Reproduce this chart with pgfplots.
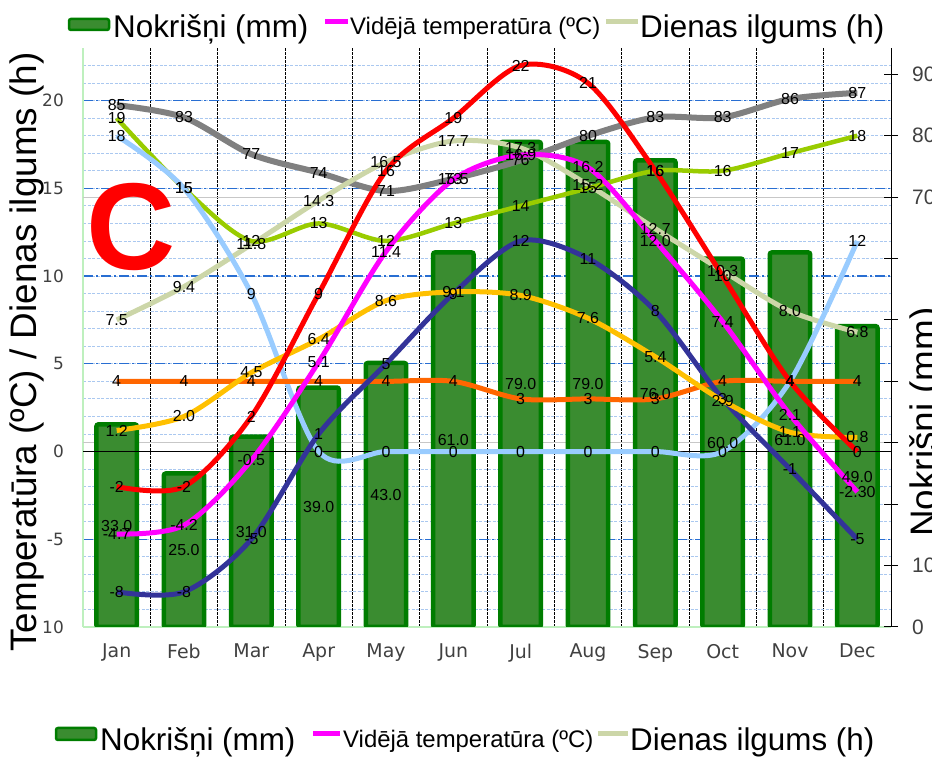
\documentclass[border=0pt]{standalone}
\usepackage{pgfplots}
\pgfplotsset{compat=1.18}
\usepackage{pgfplotstable}
\usepackage{fontspec}
\setmainfont{Liberation Sans}
\newfontfamily\dejavu{DejaVu Sans}

\definecolor{cRed}{RGB}{255,0,0}
\definecolor{cMag}{RGB}{255,0,255}
\definecolor{cGold}{RGB}{255,192,0}
\definecolor{cBlue}{RGB}{51,51,153}
\definecolor{cOrange}{RGB}{255,102,0}
\definecolor{cLBlue}{RGB}{153,204,255}
\definecolor{cLime}{RGB}{153,204,0}
\definecolor{cBeige}{RGB}{204,214,168}
\definecolor{cGray}{RGB}{128,128,128}
\definecolor{barFill}{RGB}{58,140,48}
\definecolor{barEdge}{RGB}{0,125,0}
\definecolor{gridMin}{RGB}{170,200,240}
\definecolor{gridMaj}{RGB}{40,110,210}
\definecolor{axGreen}{RGB}{190,240,190}
\definecolor{tickGray}{RGB}{64,64,64}

\pgfplotstableread{
m red mag gold blue orange lblue lime beige
0 -2 -4.7 1.2 -8 4 18 19 7.5
1 -2 -4.2 2.0 -8 4 15 15 9.4
2 2 -0.5 4.5 -5 4 9 12 11.8
3 9 5.1 6.4 1 4 0 13 14.3
4 16 11.4 8.6 5 4 0 12 16.5
5 19 15.5 9.1 9 4 0 13 17.7
6 22 16.9 8.9 12 3 0 14 17.3
7 21 16.2 7.6 11 3 0 15 15.2
8 16 12.0 5.4 8 3 0 16 12.7
9 10 7.4 2.9 3 4 0 16 10.3
10 4 2.1 1.1 -1 4 4 17 8.0
11 0 -2.30 0.8 -5 4 12 18 6.8
}\linesdata

\pgfplotstableread{
m mm hum
0 33.0 85
1 25.0 83
2 31.0 77
3 39.0 74
4 43.0 71
5 61.0 73
6 79.0 76
7 79.0 80
8 76.0 83
9 60.0 83
10 61.0 86
11 49.0 87
}\raindata

\pgfplotsset{
  base/.style={scale only axis, width=808bp, height=579bp, at={(83bp,137bp)}, anchor=south west, xmin=-0.5, xmax=11.5},
  lscale/.style={ymin=-10, ymax=23},
  rscale/.style={ymin=0, ymax=94.3},
  curve/.style={smooth, line width=5bp, mark=none, forget plot},
  lbl/.style={draw=none, mark=none, forget plot, nodes near coords, point meta=explicit symbolic,
     every node near coord/.append style={anchor=center, inner sep=0pt, text=black, font=\fontsize{16}{16}\selectfont}},
}

\begin{document}
\begin{tikzpicture}
\useasboundingbox (0,0) rectangle (932bp,764bp);

% axis A: grid and left ticks
\begin{axis}[base, lscale,
  axis x line*=bottom, axis y line*=left,
  axis line style={draw=axGreen, line width=1.2bp},
  tick style={draw=none},
  xtick={0,...,11},
  xticklabels={Jan,Feb,Mar,Apr,May,Jun,Jul,Aug,Sep,Oct,Nov,Dec},
  minor xtick={0.5,1.5,...,10.5},
  ytick={-10,-5,0,5,10,15,20},
  yticklabels={10,-5,0,5,10,15,20},
  minor ytick={-9,-8,...,22},
  ymajorgrids, yminorgrids, xminorgrids,
  major y grid style={gridMaj, dash pattern=on 10bp off 3bp on 2bp off 3bp, line width=1.2bp},
  minor y grid style={gridMin, dash pattern=on 3bp off 1.5bp, line width=0.9bp},
  minor x grid style={black, dash pattern=on 2.5bp off 1.5bp, line width=0.9bp},
  xticklabel style={font=\dejavu\fontsize{19}{19}\selectfont, text=tickGray, inner sep=0pt, anchor=north, yshift=-17bp},
  yticklabel style={font=\dejavu\fontsize{17}{17}\selectfont, text=tickGray, inner sep=0pt, anchor=east, xshift=-19bp},
]
\addplot[draw=none, forget plot] coordinates {(0,0)};
\end{axis}

% axis B: precipitation bars and humidity (right axis)
\begin{axis}[base, rscale,
  axis x line=none, axis y line*=right,
  axis line style={black, line width=1bp},
  ytick={0,10,...,90}, yticklabels={0,10,,,,,,70,80,90},
  tick align=center, major tick length=14bp,
  major tick style={black, line width=1bp},
  extra y ticks={30,70}, extra y tick labels={},
  extra y tick style={grid=major, major grid style={black!22, solid, line width=1bp}},
  yticklabel style={font=\fontsize{21}{21}\selectfont, text=tickGray, inner sep=0pt, anchor=west, xshift=14bp},
]
\addplot[ybar, bar width=0.6, fill=barFill, draw=barEdge, line width=4.5bp, rounded corners=2bp, forget plot] table[x=m, y=mm]{\raindata};
\addplot[curve, cGray, line width=6bp] table[x=m, y=hum]{\raindata};
\end{axis}

% axis C: left-axis lines
\begin{axis}[base, lscale, hide axis]
\addplot[black, line width=1.2bp, forget plot] coordinates {(-0.5,0) (11.5,0)};
\addplot[curve, cBeige] table[x=m, y=beige]{\linesdata};
\addplot[curve, cLime, line width=4.5bp] table[x=m, y=lime]{\linesdata};
\addplot[curve, cLBlue] table[x=m, y=lblue]{\linesdata};
\addplot[curve, cOrange] table[x=m, y=orange]{\linesdata};
\addplot[curve, cBlue] table[x=m, y=blue]{\linesdata};
\addplot[curve, cGold] table[x=m, y=gold]{\linesdata};
\addplot[curve, cMag] table[x=m, y=mag]{\linesdata};
\addplot[curve, cRed] table[x=m, y=red]{\linesdata};
\addplot[lbl] table[x=m, y=beige, meta=beige]{\linesdata};
\addplot[lbl] table[x=m, y=lime, meta=lime]{\linesdata};
\addplot[lbl] table[x=m, y=lblue, meta=lblue]{\linesdata};
\addplot[lbl] table[x=m, y=orange, meta=orange]{\linesdata};
\addplot[lbl] table[x=m, y=blue, meta=blue]{\linesdata};
\addplot[lbl] table[x=m, y=gold, meta=gold]{\linesdata};
\addplot[lbl] table[x=m, y=mag, meta=mag]{\linesdata};
\addplot[lbl] table[x=m, y=red, meta=red]{\linesdata};
\end{axis}

% axis D: right-axis labels
\begin{axis}[base, rscale, hide axis]
\addplot[lbl] table[x=m, y expr=\thisrow{mm}/2, meta=mm]{\raindata};
\addplot[lbl] table[x=m, y=hum, meta=hum]{\raindata};
\end{axis}

% big letter
\node[font=\bfseries\fontsize{124}{124}\selectfont, text=red, inner sep=0pt] at (131bp,537bp) {C};

% axis titles
\node[rotate=90, anchor=base, inner sep=0pt, font=\fontsize{37}{37}\selectfont] at (36bp,412bp) {Temperatūra (ºC) / Dienas ilgums (h)};
\node[rotate=90, anchor=base, inner sep=0pt, font=\fontsize{37}{37}\selectfont] at (936bp,342bp) {Nokrišņi (mm)};

% top legend
\filldraw[fill=barFill, draw=barEdge, line width=2.5bp, rounded corners=2bp] (69bp,734bp) rectangle (109bp,745bp);
\node[anchor=base west, inner sep=0pt, font=\fontsize{31.5}{31.5}\selectfont] at (113bp,726bp) {Nokrišņi (mm)};
\draw[cMag, line width=5bp] (325bp,742bp) -- (348bp,742bp);
\node[anchor=base west, inner sep=0pt, font=\fontsize{24}{24}\selectfont] at (350bp,729bp) {Vidējā temperatūra (ºC)};
\draw[cBeige, line width=5bp] (606bp,742bp) -- (638bp,742bp);
\node[anchor=base west, inner sep=0pt, font=\fontsize{31.5}{31.5}\selectfont] at (640bp,726bp) {Dienas ilgums (h)};

% bottom legend
\filldraw[fill=barFill, draw=barEdge, line width=2.5bp, rounded corners=2bp] (56bp,24bp) rectangle (96bp,36bp);
\node[anchor=base west, inner sep=0pt, font=\fontsize{31.5}{31.5}\selectfont] at (100bp,14bp) {Nokrišņi (mm)};
\draw[cMag, line width=5bp] (313bp,30bp) -- (340bp,30bp);
\node[anchor=base west, inner sep=0pt, font=\fontsize{24}{24}\selectfont] at (343bp,17bp) {Vidējā temperatūra (ºC)};
\draw[cBeige, line width=5bp] (598bp,30bp) -- (628bp,30bp);
\node[anchor=base west, inner sep=0pt, font=\fontsize{31.5}{31.5}\selectfont] at (630bp,14bp) {Dienas ilgums (h)};
\end{tikzpicture}
\end{document}
